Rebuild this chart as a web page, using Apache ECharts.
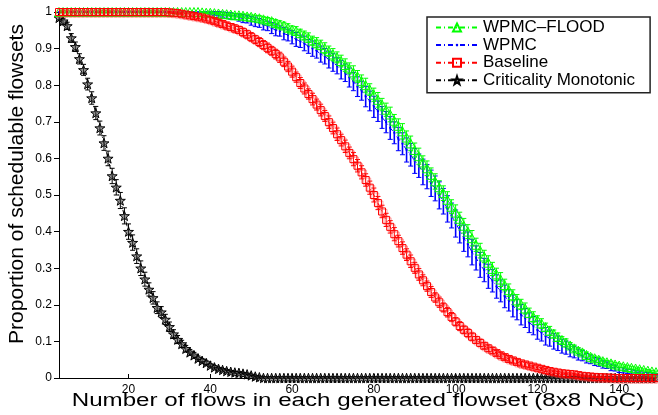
<!DOCTYPE html>
<html>
<head>
<meta charset="utf-8">
<script src="https://cdn.jsdelivr.net/npm/echarts@6/dist/echarts.min.js"></script>
<style>
html, body { margin: 0; padding: 0; background: #fff; }
#chart { width: 658px; height: 415px; }
</style>
</head>
<body>
<div id="chart"></div>
<script>
// Number of flows per generated flowset (8x8 NoC)
const flowCounts = [
  3,4,5,6,7,8,9,10,11,12,
  13,14,15,16,17,18,19,20,21,22,
  23,24,25,26,27,28,29,30,31,32,
  33,34,35,36,37,38,39,40,41,42,
  43,44,45,46,47,48,49,50,51,52,
  53,54,55,56,57,58,59,60,61,62,
  63,64,65,66,67,68,69,70,71,72,
  73,74,75,76,77,78,79,80,81,82,
  83,84,85,86,87,88,89,90,91,92,
  93,94,95,96,97,98,99,100,101,102,
  103,104,105,106,107,108,109,110,111,112,
  113,114,115,116,117,118,119,120,121,122,
  123,124,125,126,127,128,129,130,131,132,
  133,134,135,136,137,138,139,140,141,142,
  143,144,145,146,147,148,149
];

// Proportion of schedulable flowsets per analysis, with spread per point
const wpmcFlood = [
  1,1,1,1,1,1,1,1,1,1,
  1,1,1,1,1,1,1,1,1,1,
  1,1,1,1,1,1,1,1,1,1,
  1,1,1,1,1,0.999,0.998,0.998,0.997,0.996,
  0.995,0.994,0.993,0.991,0.991,0.99,0.988,0.987,0.985,0.983,
  0.98,0.977,0.975,0.97,0.966,0.963,0.957,0.952,0.948,0.942,
  0.936,0.93,0.922,0.916,0.91,0.901,0.893,0.884,0.876,0.866,
  0.855,0.846,0.835,0.824,0.811,0.8,0.788,0.774,0.76,0.747,
  0.733,0.72,0.703,0.689,0.674,0.657,0.641,0.623,0.606,0.589,
  0.573,0.555,0.537,0.521,0.505,0.487,0.468,0.452,0.435,0.416,
  0.4,0.382,0.364,0.348,0.332,0.315,0.298,0.283,0.269,0.254,
  0.24,0.226,0.212,0.201,0.19,0.178,0.167,0.158,0.149,0.139,
  0.129,0.121,0.112,0.104,0.097,0.089,0.081,0.075,0.07,0.063,
  0.058,0.054,0.05,0.046,0.043,0.04,0.037,0.034,0.032,0.03,
  0.028,0.026,0.024,0.022,0.02,0.018,0.016
];
const wpmcFloodErr = [
  0,0,0,0,0,0,0,0,0,0,
  0,0,0,0,0,0,0,0,0,0,
  0,0,0,0,0,0,0,0,0,0,
  0,0,0,0,0,0.002,0.002,0.003,0.002,0.003,
  0.004,0.003,0.004,0.005,0.004,0.005,0.006,0.005,0.006,0.007,
  0.007,0.008,0.007,0.009,0.01,0.009,0.011,0.01,0.012,0.011,
  0.012,0.013,0.012,0.014,0.013,0.015,0.014,0.016,0.015,0.016,
  0.017,0.015,0.018,0.016,0.017,0.019,0.016,0.018,0.02,0.017,
  0.018,0.02,0.017,0.019,0.021,0.018,0.02,0.019,0.022,0.018,
  0.02,0.019,0.021,0.018,0.02,0.022,0.019,0.021,0.018,0.02,
  0.019,0.021,0.018,0.02,0.017,0.019,0.018,0.017,0.019,0.016,
  0.017,0.015,0.016,0.014,0.015,0.013,0.014,0.012,0.013,0.011,
  0.012,0.01,0.011,0.009,0.01,0.008,0.009,0.008,0.007,0.008,
  0.007,0.006,0.007,0.006,0.005,0.006,0.005,0.005,0.004,0.005,
  0.004,0.004,0.004,0.003,0.003,0.003,0.003
];

const wpmc = [
  1,1,1,1,1,1,1,1,1,1,
  1,1,1,1,1,1,1,1,1,1,
  1,1,1,1,1,1,1,1,1,1,
  1,1,1,1,1,1,1,0.998,0.996,0.995,
  0.993,0.991,0.989,0.988,0.985,0.982,0.98,0.976,0.973,0.97,
  0.965,0.962,0.956,0.951,0.948,0.941,0.937,0.931,0.925,0.92,
  0.914,0.906,0.9,0.894,0.885,0.879,0.87,0.862,0.853,0.842,
  0.834,0.821,0.81,0.796,0.785,0.769,0.757,0.741,0.729,0.712,
  0.699,0.683,0.67,0.653,0.64,0.623,0.61,0.593,0.58,0.563,
  0.55,0.532,0.518,0.499,0.483,0.462,0.444,0.422,0.404,0.382,
  0.365,0.344,0.328,0.309,0.295,0.278,0.266,0.25,0.238,0.223,
  0.212,0.197,0.187,0.173,0.164,0.151,0.143,0.131,0.124,0.114,
  0.109,0.1,0.095,0.087,0.083,0.075,0.071,0.064,0.061,0.054,
  0.051,0.045,0.043,0.037,0.035,0.029,0.027,0.022,0.021,0.018,
  0.017,0.015,0.014,0.012,0.011,0.01,0.009
];
const wpmcErr = [
  0,0,0,0,0,0,0,0,0,0,
  0,0,0,0,0,0,0,0,0,0,
  0,0,0,0,0,0,0,0,0,0,
  0,0,0,0,0,0,0,0.004,0.005,0.006,
  0.007,0.008,0.009,0.008,0.01,0.011,0.01,0.012,0.013,0.012,
  0.014,0.013,0.015,0.016,0.014,0.017,0.016,0.018,0.019,0.017,
  0.02,0.019,0.021,0.02,0.022,0.021,0.023,0.024,0.022,0.025,
  0.024,0.026,0.025,0.027,0.026,0.028,0.027,0.029,0.028,0.03,
  0.029,0.031,0.03,0.032,0.03,0.033,0.031,0.034,0.032,0.035,
  0.033,0.036,0.034,0.037,0.035,0.036,0.034,0.037,0.035,0.036,
  0.034,0.035,0.033,0.034,0.032,0.033,0.031,0.032,0.03,0.031,
  0.029,0.03,0.028,0.028,0.026,0.027,0.025,0.025,0.023,0.024,
  0.022,0.021,0.02,0.019,0.018,0.017,0.016,0.015,0.014,0.013,
  0.012,0.011,0.011,0.01,0.009,0.009,0.008,0.007,0.007,0.006,
  0.006,0.005,0.005,0.004,0.004,0.004,0.003
];

const baseline = [
  1,1,1,1,1,1,1,1,1,1,
  1,1,1,1,1,1,1,1,1,1,
  1,1,1,1,1,1,1,0.999,0.998,0.997,
  0.995,0.993,0.991,0.989,0.987,0.985,0.982,0.979,0.975,0.971,
  0.967,0.963,0.959,0.955,0.951,0.945,0.939,0.932,0.925,0.918,
  0.91,0.902,0.894,0.885,0.876,0.864,0.851,0.837,0.822,0.806,
  0.791,0.776,0.762,0.747,0.732,0.716,0.699,0.683,0.666,0.65,
  0.633,0.615,0.598,0.58,0.562,0.541,0.52,0.5,0.478,0.455,
  0.432,0.413,0.393,0.374,0.355,0.337,0.319,0.301,0.283,0.267,
  0.251,0.235,0.22,0.207,0.193,0.18,0.167,0.154,0.142,0.132,
  0.123,0.113,0.104,0.096,0.088,0.081,0.075,0.068,0.062,0.057,
  0.052,0.048,0.044,0.04,0.037,0.034,0.031,0.028,0.025,0.022,
  0.019,0.017,0.015,0.013,0.012,0.011,0.01,0.008,0.006,0.005,
  0.004,0.003,0.002,0.002,0.001,0.001,0,0,0,0,
  0,0,0,0,0,0,0
];
const baselineErr = [
  0,0,0,0,0,0,0,0,0,0,
  0,0,0,0,0,0,0,0,0,0,
  0,0,0,0,0,0,0,0.002,0.002,0.003,
  0.003,0.004,0.004,0.005,0.005,0.006,0.006,0.007,0.007,0.008,
  0.008,0.009,0.009,0.01,0.01,0.011,0.011,0.012,0.011,0.012,
  0.012,0.013,0.012,0.013,0.014,0.013,0.014,0.015,0.014,0.015,
  0.015,0.014,0.016,0.015,0.016,0.015,0.017,0.016,0.017,0.016,
  0.017,0.016,0.018,0.017,0.018,0.017,0.018,0.019,0.018,0.017,
  0.018,0.017,0.018,0.016,0.017,0.016,0.017,0.015,0.016,0.015,
  0.014,0.015,0.013,0.014,0.012,0.013,0.012,0.011,0.012,0.01,
  0.011,0.01,0.009,0.01,0.008,0.009,0.008,0.007,0.008,0.007,
  0.006,0.007,0.006,0.005,0.006,0.005,0.004,0.005,0.004,0.004,
  0.003,0.004,0.003,0.003,0.002,0.003,0.002,0.002,0.002,0.002,
  0.001,0.001,0.001,0.001,0.001,0.001,0,0,0,0,
  0,0,0,0,0,0,0
];

const critMono = [
  0.984,0.975,0.962,0.929,0.905,0.872,0.842,0.803,0.765,0.724,
  0.683,0.642,0.6,0.552,0.521,0.485,0.443,0.4,0.37,0.333,
  0.3,0.27,0.242,0.219,0.192,0.18,0.16,0.14,0.12,0.105,
  0.093,0.08,0.07,0.062,0.053,0.047,0.041,0.034,0.029,0.025,
  0.022,0.019,0.017,0.015,0.014,0.012,0.01,0.007,0.004,0.002,
  0,0,0,0,0,0,0,0,0,0,
  0,0,0,0,0,0,0,0,0,0,
  0,0,0,0,0,0,0,0,0,0,
  0,0,0,0,0,0,0,0,0,0,
  0,0,0,0,0,0,0,0,0,0,
  0,0,0,0,0,0,0,0,0,0,
  0,0,0,0,0,0,0,0,0,0,
  0,0,0,0,0,0,0,0,0,0,
  0,0,0,0,0,0,0,0,0,0,
  0,0,0,0,0,0,0
];
const critMonoErr = [
  0.006,0.008,0.01,0.012,0.013,0.014,0.015,0.016,0.017,0.018,
  0.019,0.02,0.02,0.021,0.021,0.022,0.022,0.021,0.021,0.02,
  0.02,0.019,0.018,0.017,0.016,0.015,0.014,0.013,0.012,0.011,
  0.01,0.009,0.008,0.008,0.007,0.006,0.006,0.005,0.005,0.004,
  0.004,0.004,0.003,0.003,0.003,0.003,0.002,0.002,0.002,0.001,
  0,0,0,0,0,0,0,0,0,0,
  0,0,0,0,0,0,0,0,0,0,
  0,0,0,0,0,0,0,0,0,0,
  0,0,0,0,0,0,0,0,0,0,
  0,0,0,0,0,0,0,0,0,0,
  0,0,0,0,0,0,0,0,0,0,
  0,0,0,0,0,0,0,0,0,0,
  0,0,0,0,0,0,0,0,0,0,
  0,0,0,0,0,0,0,0,0,0,
  0,0,0,0,0,0,0
];

const seriesNames = ['WPMC\u2013FLOOD', 'WPMC', 'Baseline', 'Criticality Monotonic'];
const xTickValues = [20, 40, 60, 80, 100, 120, 140];
const xTitle = 'Number of flows in each generated flowset (8x8 NoC)';
const yTitle = 'Proportion of schedulable flowsets';

const FONT = '"Liberation Sans", Arial, Helvetica, sans-serif';
const DASH_DOT = [5, 3, 1, 3];
const STAR = 'path://M0,-10L2.35,-3.24L9.51,-3.09L3.8,1.24L5.88,8.09L0,4L-5.88,8.09L-3.8,1.24L-9.51,-3.09L-2.35,-3.24Z';
// small point marker centred in a larger box, so the legend keeps it small too
const DOT = 'image://data:image/svg+xml;charset=utf-8,' + encodeURIComponent(
  '<svg xmlns="http://www.w3.org/2000/svg" width="20" height="20" viewBox="0 0 20 20">' +
  '<circle cx="10" cy="10" r="3.2" fill="#0000ff"/></svg>'
);

function points(ys) {
  return flowCounts.map((x, i) => [x, ys[i]]);
}
function ranges(ys, es) {
  return flowCounts
    .map((x, i) => [x, ys[i] - es[i], ys[i] + es[i]])
    .filter(d => d[2] > d[1]);
}

function lineSeries(name, ys, color, symbol, size, fill, z, extraItem) {
  return {
    type: 'line', name, data: points(ys), z,
    symbol, symbolSize: size, symbolKeepAspect: true, showAllSymbol: true,
    lineStyle: { color, width: 1, type: DASH_DOT },
    itemStyle: Object.assign({ color: fill, borderColor: color, borderWidth: 1 }, extraItem || {}),
    emphasis: { disabled: true },
    animation: false
  };
}

function errorSeries(name, ys, es, color, width, z) {
  return {
    type: 'custom', name, data: ranges(ys, es), z, silent: true,
    encode: { x: 0, y: [1, 2] },
    renderItem(params, api) {
      const x = api.value(0);
      const lo = api.coord([x, api.value(1)]);
      const hi = api.coord([x, api.value(2)]);
      const w = 2.5;
      const style = { stroke: color, lineWidth: width };
      const capStyle = { stroke: color, lineWidth: 1 };
      return {
        type: 'group',
        children: [
          { type: 'line', shape: { x1: lo[0], y1: lo[1], x2: hi[0], y2: hi[1] }, style },
          { type: 'line', shape: { x1: lo[0] - w, y1: lo[1], x2: lo[0] + w, y2: lo[1] }, style: capStyle },
          { type: 'line', shape: { x1: hi[0] - w, y1: hi[1], x2: hi[0] + w, y2: hi[1] }, style: capStyle }
        ]
      };
    },
    animation: false
  };
}

const chart = echarts.init(document.getElementById('chart'), null, { renderer: 'canvas' });

chart.setOption({
  backgroundColor: '#fff',
  animation: false,
  grid: { left: 59, right: 2, top: 12, bottom: 37, containLabel: false },
  xAxis: {
    type: 'value', min: 3, max: 149,
    axisLine: { lineStyle: { color: '#000', width: 1 } },
    axisTick: { inside: true, length: 4, customValues: xTickValues, lineStyle: { color: '#000' } },
    axisLabel: { customValues: xTickValues, margin: 6, color: '#000', fontFamily: FONT, fontSize: 12 },
    splitLine: { show: false }
  },
  yAxis: {
    type: 'value', min: 0, max: 1, interval: 0.1,
    axisLine: { show: true, lineStyle: { color: '#000', width: 1 } },
    axisTick: { show: true, inside: false, length: 5, lineStyle: { color: '#000' } },
    axisLabel: { margin: 7, color: '#000', fontFamily: FONT, fontSize: 12 },
    splitLine: { show: false }
  },
  legend: {
    data: seriesNames,
    orient: 'vertical',
    left: 427, top: 17,
    itemWidth: 42, itemHeight: 10, itemGap: 0.6,
    padding: [2, 15, 4, 8],
    borderColor: '#222', borderWidth: 1.5,
    backgroundColor: '#fff',
    selectedMode: false,
    textStyle: { color: '#000', fontFamily: FONT, fontSize: 17, lineHeight: 17 }
  },
  graphic: [
    {
      type: 'text', x: 358, y: 401, scaleX: 1.34,
      style: { text: xTitle, fill: '#000', font: '18px ' + FONT, textAlign: 'center', textVerticalAlign: 'middle' }
    },
    {
      type: 'text', x: 17, y: 184, rotation: Math.PI / 2,
      style: { text: yTitle, fill: '#000', font: '21px ' + FONT, textAlign: 'center', textVerticalAlign: 'middle' }
    }
  ],
  series: [
    errorSeries('WPMC-FLOOD spread', wpmcFlood, wpmcFloodErr, '#00ff00', 1, 3),
    errorSeries('WPMC spread', wpmc, wpmcErr, '#0000ff', 1.6, 2),
    errorSeries('Baseline spread', baseline, baselineErr, '#ff0000', 1, 4),
    errorSeries('Criticality Monotonic spread', critMono, critMonoErr, '#000000', 1, 1),
    lineSeries(seriesNames[0], wpmcFlood, '#00ff00', 'triangle', 9, 'rgba(0,0,0,0)', 3),
    lineSeries(seriesNames[1], wpmc, '#0000ff', DOT, 7, '#0000ff', 2),
    lineSeries(seriesNames[2], baseline, '#ff0000', 'rect', 7, 'rgba(0,0,0,0)', 4,
      { shadowColor: 'rgba(255,60,60,0.45)', shadowBlur: 0, shadowOffsetX: 1.5, shadowOffsetY: 1.5 }),
    lineSeries(seriesNames[3], critMono, '#000000', STAR, 10, 'rgba(70,70,70,0.55)', 1)
  ]
});
</script>
</body>
</html>
